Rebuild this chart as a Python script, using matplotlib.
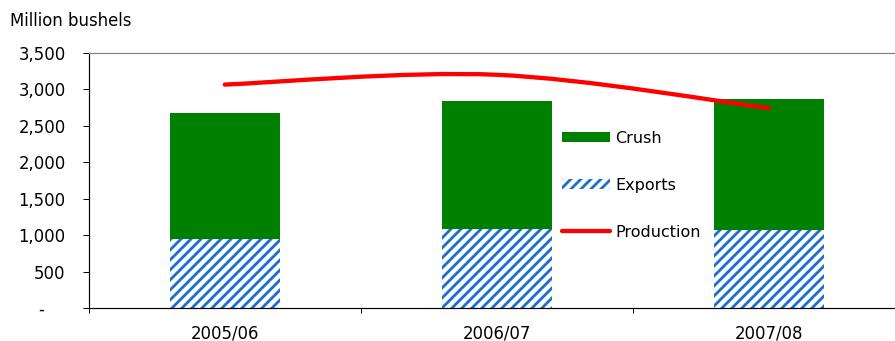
import matplotlib
matplotlib.use('Agg')
import matplotlib.pyplot as plt
import matplotlib.transforms as mtransforms
import numpy as np
from matplotlib.path import Path
from matplotlib.patches import PathPatch, Patch
from matplotlib.lines import Line2D

# ---- data ----
categories = ['2005/06', '2006/07', '2007/08']
exports = [940, 1080, 1070]
crush = [1739, 1760, 1795]
production = [3063, 3197, 2740]
yticks = [0, 500, 1000, 1500, 2000, 2500, 3000, 3500]
ytick_labels = ['-', '500', '1,000', '1,500', '2,000', '2,500', '3,000', '3,500']
series_names = ['Crush', 'Exports', 'Production']
y_title = 'Million bushels'

# ---- style ----
DPI = 60
W, H = 895, 341
PT = 72.0 / DPI  # points per pixel
GREEN = '#008000'
BLUE = '#1c6fd0'
RED = '#ff0000'

plt.rcParams['font.family'] = ['DejaVu Sans']
plt.rcParams['hatch.linewidth'] = 2.8 * PT

fig = plt.figure(figsize=(W / DPI, H / DPI), dpi=DPI)
ax = fig.add_axes([88.7 / W, 33.0 / H, (905 - 88.7) / W, 255.3 / H])

x = np.arange(len(categories))
bw = 0.404
ax.bar(x, exports, bw, color='white', edgecolor=BLUE, linewidth=0, hatch='//', zorder=2)
ax.bar(x, crush, bw, bottom=exports, color=GREEN, linewidth=0, zorder=2)

# smoothed production line (Excel-style Bezier through the data points)
pts = np.column_stack([x.astype(float), np.array(production, dtype=float)])
n = len(pts)
verts = [tuple(pts[0])]
codes = [Path.MOVETO]
for i in range(n - 1):
    p_prev = pts[max(i - 1, 0)]
    p0 = pts[i]
    p1 = pts[i + 1]
    p_next = pts[min(i + 2, n - 1)]
    c1 = p0 + (p1 - p_prev) / 6.0
    c2 = p1 - (p_next - p0) / 6.0
    verts += [tuple(c1), tuple(c2), tuple(p1)]
    codes += [Path.CURVE4] * 3
path = Path(verts, codes)
ax.add_patch(PathPatch(path, facecolor='none', edgecolor=RED, linewidth=4.3 * PT,
                       capstyle='round', joinstyle='round', zorder=3))

ax.set_xlim(-0.5, len(categories) - 0.5)
ax.set_ylim(0, 3500)

ax.set_yticks(yticks)
ax.set_yticklabels(ytick_labels)
ax.set_xticks(x)
ax.set_xticklabels(categories)
ax.set_xticks(np.arange(len(categories) + 1) - 0.5, minor=True)

ax.tick_params(axis='y', which='major', direction='out', length=6 * PT, width=1 * PT,
               pad=17 * PT, labelsize=16.5 * PT, colors='black')
ax.tick_params(axis='x', which='major', length=0, pad=16 * PT, labelsize=16.5 * PT)
ax.tick_params(axis='x', which='minor', direction='out', length=5 * PT, width=1 * PT)

for lbl in ax.get_yticklabels():
    if lbl.get_text() == '-':
        lbl.set_transform(lbl.get_transform() +
                          mtransforms.ScaledTranslation(-22 / DPI, 0, fig.dpi_scale_trans))

for side in ['left', 'bottom']:
    ax.spines[side].set_color('black')
    ax.spines[side].set_linewidth(1.2 * PT)
for side in ['top', 'right']:
    ax.spines[side].set_color('#808080')
    ax.spines[side].set_linewidth(1.2 * PT)

fig.text(10 / W, 1 - 26 / H, y_title, fontsize=16.5 * PT, va='baseline', ha='left')

handles = [
    Patch(facecolor=GREEN, edgecolor='none', linewidth=0),
    Patch(facecolor='white', edgecolor=BLUE, hatch='//', linewidth=0),
    Line2D([0], [0], color=RED, linewidth=4.3 * PT, solid_capstyle='round'),
]
leg = ax.legend(handles, series_names, loc='upper left',
                bbox_to_anchor=(552 / W, 1 - 121 / H), bbox_transform=fig.transFigure,
                frameon=False, borderaxespad=0, borderpad=0.6,
                fontsize=16 * PT, handlelength=3.05, handleheight=0.65,
                handletextpad=0.3, labelspacing=2.0)
leg.set_zorder(5)

fig.savefig('out.png', dpi=DPI)
